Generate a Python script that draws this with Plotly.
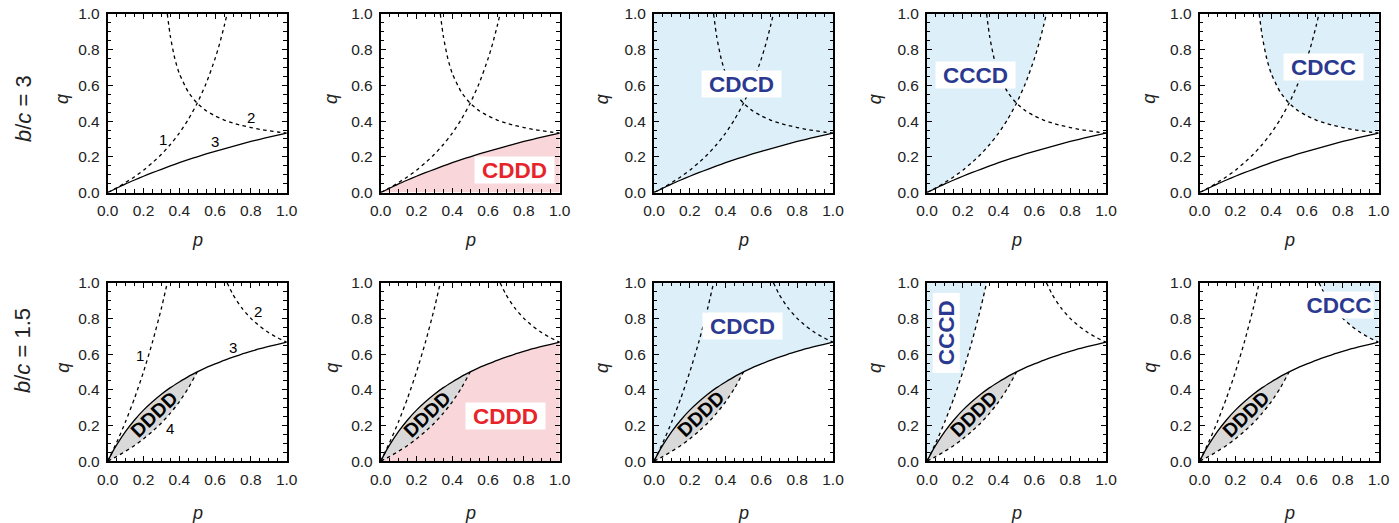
import plotly.graph_objects as go

W, H = 1399, 523

# ---------------- data ----------------
ROW_LABELS = ["3", "1.5"]                       # b/c for top and bottom rows
PANEL_REGIONS = [None, "CDDD", "CDCD", "CCCD", "CDCC"]

# b/c = 3
P1_TOP = [0, 0.05, 0.1, 0.15, 0.2, 0.25, 0.3, 0.35, 0.4, 0.45, 0.5, 0.55, 0.6, 0.625, 0.65, 0.667]
Q1_TOP = [0, 0.026, 0.056, 0.088, 0.125, 0.167, 0.214, 0.269, 0.333, 0.409, 0.5, 0.611, 0.75, 0.833, 0.929, 1.0]
P2_TOP = [0.333, 0.35, 0.375, 0.4, 0.45, 0.5, 0.55, 0.6, 0.65, 0.7, 0.75, 0.8, 0.85, 0.9, 0.95, 1.0]
Q2_TOP = [1.0, 0.875, 0.75, 0.667, 0.563, 0.5, 0.458, 0.429, 0.406, 0.389, 0.375, 0.364, 0.354, 0.346, 0.339, 0.333]
P3_TOP = [0, 0.05, 0.1, 0.15, 0.2, 0.25, 0.3, 0.35, 0.4, 0.45, 0.5, 0.55, 0.6, 0.65, 0.7, 0.75, 0.8, 0.85, 0.9, 0.95, 1.0]
Q3_TOP = [0, 0.024, 0.048, 0.070, 0.091, 0.111, 0.130, 0.149, 0.167, 0.184, 0.2, 0.216, 0.231, 0.245, 0.259, 0.273, 0.286, 0.298, 0.310, 0.322, 0.333]

# b/c = 1.5
P1_BOT = [0, 0.05, 0.1, 0.15, 0.2, 0.25, 0.3, 0.333]
Q1_BOT = [0, 0.105, 0.222, 0.353, 0.5, 0.667, 0.857, 1.0]
P2_BOT = [0.667, 0.7, 0.75, 0.8, 0.85, 0.9, 0.95, 1.0]
Q2_BOT = [1.0, 0.933, 0.857, 0.8, 0.756, 0.72, 0.691, 0.667]
P3_BOT = [0, 0.025, 0.05, 0.1, 0.15, 0.2, 0.25, 0.3, 0.35, 0.4, 0.45, 0.5, 0.55, 0.6, 0.65, 0.7, 0.75, 0.8, 0.85, 0.9, 0.95, 1.0]
Q3_BOT = [0, 0.048, 0.091, 0.167, 0.231, 0.286, 0.333, 0.375, 0.412, 0.444, 0.474, 0.5, 0.524, 0.545, 0.565, 0.583, 0.6, 0.615, 0.630, 0.643, 0.655, 0.667]
P4_BOT = [0, 0.05, 0.1, 0.15, 0.2, 0.25, 0.3, 0.35, 0.4, 0.45, 0.5]
Q4_BOT = [0, 0.026, 0.056, 0.088, 0.125, 0.167, 0.214, 0.269, 0.333, 0.409, 0.5]

TICK_VALS = [0, 0.2, 0.4, 0.6, 0.8, 1.0]
TICK_TEXT = ["0.0", "0.2", "0.4", "0.6", "0.8", "1.0"]

# curve number labels in first column: (text, p, q)
CURVE_LABELS_TOP = [("1", 0.31, 0.295), ("2", 0.80, 0.42), ("3", 0.60, 0.285)]
CURVE_LABELS_BOT = [("1", 0.18, 0.594), ("2", 0.84, 0.837), ("3", 0.70, 0.636), ("4", 0.35, 0.183)]

# region label positions (p, q) per row and panel
REGION_LABEL_POS_TOP = {"CDDD": (0.746, 0.124), "CDCD": (0.49, 0.608), "CCCD": (0.271, 0.657), "CDCC": (0.694, 0.703)}
REGION_LABEL_POS_BOT = {"CDDD": (0.698, 0.253), "CDCD": (0.494, 0.755), "CCCD": (0.108, 0.718), "CDCC": (0.78, 0.873)}
DDDD_POS = (0.26, 0.262)

# ---------------- styling / layout ----------------
FONT = "Liberation Sans, Arial, Helvetica, sans-serif"
TXT = "#222222"
PINK = "#f9d6da"
BLUE = "#ddeff9"
GRAY = "#d9d9d9"
RED = "#e8242b"
NAVY = "#2b3990"

LEFTS = [107.7, 380.7, 654.0, 927.0, 1199.6]
Q_TITLE_OFFSET = [45, 49, 52, 52, 50]
PW = 179.0
ROW_TOPS = [14.0, 282.7]
PH = 178.5
P_TITLE_Y = [240, 513]

fig = go.Figure()
annotations = []
layout_axes = {}

def add_fill(xs, ys, color, ax):
    fig.add_trace(go.Scatter(x=xs, y=ys, mode="lines", fill="toself", fillcolor=color,
                             line=dict(width=0, color=color), hoverinfo="skip",
                             showlegend=False, xaxis=ax[0], yaxis=ax[1]))

def add_line(xs, ys, dash, ax):
    fig.add_trace(go.Scatter(x=xs, y=ys, mode="lines",
                             line=dict(color="black", width=1.3, dash=dash, shape="spline", smoothing=0.6),
                             hoverinfo="skip", showlegend=False, xaxis=ax[0], yaxis=ax[1]))

def ann(**kw):
    kw.setdefault("showarrow", False)
    kw.setdefault("xanchor", "center")
    kw.setdefault("yanchor", "middle")
    annotations.append(kw)

k = 0
for row in range(2):
    top = row == 0
    P1, Q1 = (P1_TOP, Q1_TOP) if top else (P1_BOT, Q1_BOT)
    P2, Q2 = (P2_TOP, Q2_TOP) if top else (P2_BOT, Q2_BOT)
    P3, Q3 = (P3_TOP, Q3_TOP) if top else (P3_BOT, Q3_BOT)
    label_pos = REGION_LABEL_POS_TOP if top else REGION_LABEL_POS_BOT
    for col in range(5):
        k += 1
        xa = "x" if k == 1 else f"x{k}"
        ya = "y" if k == 1 else f"y{k}"
        ax = (xa, ya)
        region = PANEL_REGIONS[col]

        # region fills
        if region == "CDDD":
            if top:
                add_fill(P3 + [1, 0], Q3 + [0, 0], PINK, ax)
            else:
                xs = P4_BOT + [p for p in P3 if p > 0.5] + [1]
                ys = Q4_BOT + [q for p, q in zip(P3, Q3) if p > 0.5] + [0]
                add_fill(xs, ys, PINK, ax)
        elif region == "CDCD":
            add_fill(P3 + [1, 0], Q3 + [1, 1], BLUE, ax)
        elif region == "CCCD":
            add_fill(P1 + [0], Q1 + [1], BLUE, ax)
        elif region == "CDCC":
            add_fill(P2 + [1], Q2 + [1], BLUE, ax)

        if not top:
            xs = [p for p in P3 if p <= 0.5] + P4_BOT[::-1]
            ys = [q for p, q in zip(P3, Q3) if p <= 0.5] + Q4_BOT[::-1]
            add_fill(xs, ys, GRAY, ax)

        # curves
        add_line(P1, Q1, "3.5px,3.5px", ax)
        add_line(P2, Q2, "3.5px,3.5px", ax)
        add_line(P3, Q3, "solid", ax)
        if not top:
            add_line(P4_BOT, Q4_BOT, "3.5px,3.5px", ax)

        # axes
        x0 = LEFTS[col] / W
        x1 = (LEFTS[col] + PW) / W
        y1 = 1 - ROW_TOPS[row] / H
        y0 = 1 - (ROW_TOPS[row] + PH) / H
        common = dict(range=[0, 1], tickvals=TICK_VALS, ticktext=TICK_TEXT,
                      ticks="inside", ticklen=5, tickwidth=1, tickcolor="black",
                      showline=True, linewidth=1.8, linecolor="black", mirror="allticks",
                      showgrid=False, zeroline=False, fixedrange=True, automargin=False,
                      minor=dict(dtick=0.05, tick0=0, ticks="inside", ticklen=3.5,
                                 tickwidth=1, tickcolor="black", showgrid=False),
                      tickfont=dict(family=FONT, size=15.5, color=TXT))
        layout_axes["xaxis" if k == 1 else f"xaxis{k}"] = dict(common, domain=[x0, x1], anchor=ya,
                                                               ticklabelstandoff=3)
        layout_axes["yaxis" if k == 1 else f"yaxis{k}"] = dict(common, domain=[y0, y1], anchor=xa,
                                                               ticklabelstandoff=3)

        # axis titles
        ann(x=(LEFTS[col] + PW / 2) / W, y=1 - P_TITLE_Y[row] / H,
            xref="paper", yref="paper", text="<i>p</i>",
            font=dict(family=FONT, size=18, color=TXT))
        ann(x=(LEFTS[col] - Q_TITLE_OFFSET[col]) / W, y=1 - (ROW_TOPS[row] + PH / 2 - 4) / H,
            xref="paper", yref="paper", text="<i>q</i>", textangle=-90,
            font=dict(family=FONT, size=18, color=TXT))

        # curve number labels
        if col == 0:
            for txt, px, qy in (CURVE_LABELS_TOP if top else CURVE_LABELS_BOT):
                ann(x=px, y=qy, xref=xa, yref=ya, text=txt,
                    font=dict(family=FONT, size=15, color="black"))

        # DDDD label
        if not top:
            ann(x=DDDD_POS[0], y=DDDD_POS[1], xref=xa, yref=ya, text="<b>DDDD</b>",
                textangle=-44, font=dict(family=FONT, size=19.5, color="black"))

        # region label
        if region is not None:
            px, qy = label_pos[region]
            color = RED if region == "CDDD" else NAVY
            vertical = (not top) and region == "CCCD"
            bw = 68 if ((not top) and region == "CDCC") else 79
            ann(x=px, y=qy, xref=xa, yref=ya, text=f"<b>{region}</b>",
                bgcolor="white", borderpad=0, width=bw, height=26,
                textangle=-90 if vertical else 0,
                font=dict(family=FONT, size=22.5, color=color))

# row labels b/c
ann(x=23 / W, y=1 - 109 / H, xref="paper", yref="paper",
    text="<i>b</i>/<i>c</i> = " + ROW_LABELS[0], textangle=-90,
    font=dict(family=FONT, size=22, color=TXT))
ann(x=22 / W, y=1 - 351 / H, xref="paper", yref="paper",
    text="<i>b</i>/<i>c</i> = " + ROW_LABELS[1], textangle=-90,
    font=dict(family=FONT, size=22, color=TXT))

fig.update_layout(width=W, height=H, margin=dict(l=0, r=0, t=0, b=0),
                  paper_bgcolor="white", plot_bgcolor="white",
                  font=dict(family=FONT), annotations=annotations, showlegend=False,
                  **layout_axes)

fig.write_html("out.html", config={"displayModeBar": False},
               post_script="document.body.style.margin='0px';document.body.style.padding='0px';")
